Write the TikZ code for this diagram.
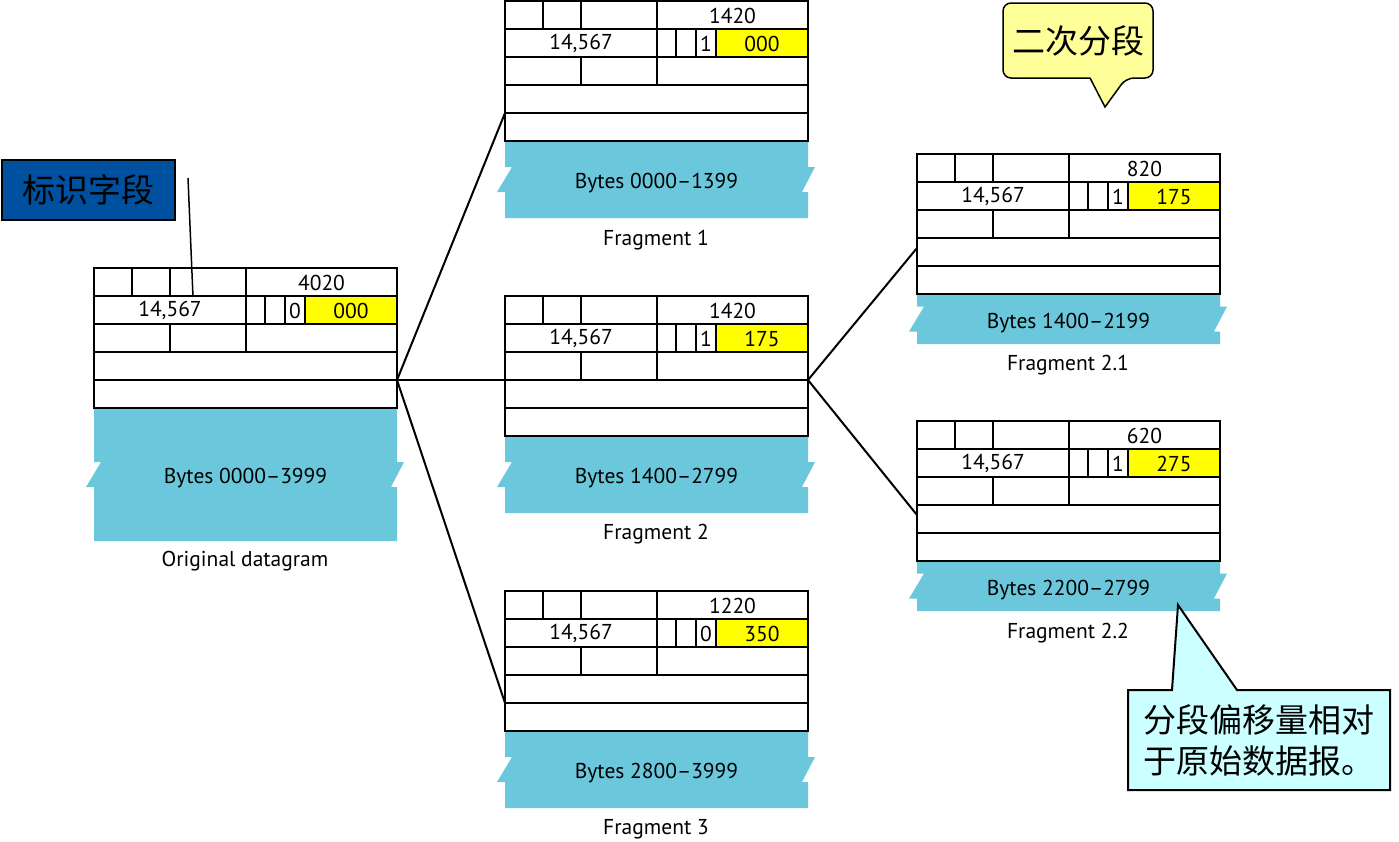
\documentclass[tikz,border=0pt]{standalone}
\usepackage{fontspec}
\setmainfont{PT Sans}
\newfontfamily\cjk{Noto Sans CJK SC}
\definecolor{tornblue}{RGB}{107,200,220}
\definecolor{hdryellow}{RGB}{255,255,0}
\definecolor{idblue}{RGB}{0,80,160}
\definecolor{noteyellow}{RGB}{255,255,153}
\definecolor{notecyan}{RGB}{204,255,255}
\tikzset{
  hdr/.style={draw=black,line width=1.4pt},
  cell/.style={inner sep=0pt,font=\fontsize{21.5}{21.5}\selectfont},
  link/.style={draw=black,line width=2pt},
  caption/.style={inner sep=0pt,font=\fontsize{21.5}{21.5}\selectfont},
  cjknote/.style={font=\cjk\fontsize{33}{41}\selectfont,inner sep=0pt,align=left},
}
% #1 name, #2 x, #3 y, #4 total length, #5 flag, #6 offset, #7 blue height, #8 bytes label
\newcommand{\dgram}[8]{%
\begin{scope}[shift={(#2,#3)}]
  \fill[tornblue] (0,140) -- (303,140) -- (303,{140+#7/2-12.5}) -- (310,{140+#7/2-12.5})
    -- (297,{140+#7/2+12.5}) -- (303,{140+#7/2+12.5}) -- (303,{140+#7}) -- (0,{140+#7})
    -- (0,{140+#7/2+12.5}) -- (-8,{140+#7/2+12.5}) -- (7,{140+#7/2-12.5}) -- (0,{140+#7/2-12.5}) -- cycle;
  \fill[white] (0,0) rectangle (303,140);
  \fill[hdryellow] (211,28) rectangle (303,56);
  \draw[hdr] (0,0) rectangle (303,140);
  \draw[hdr] (0,28) -- (303,28) (0,56) -- (303,56) (0,84) -- (303,84) (0,112) -- (303,112);
  \draw[hdr] (38,0) -- (38,28) (76,0) -- (76,28) (152,0) -- (152,28);
  \draw[hdr] (152,28) -- (152,56) (171,28) -- (171,56) (191,28) -- (191,56) (211,28) -- (211,56);
  \draw[hdr] (76,56) -- (76,84) (152,56) -- (152,84);
  \node[cell] (#1-len) at (227.5,15) {#4};
  \node[cell] (#1-id) at (76,42) {14,567};
  \node[cell] (#1-flag) at (201,43) {#5};
  \node[cell] (#1-off) at (257,43) {#6};
  \node[cell] (#1-bytes) at (151.5,{144+#7/2}) {#8};
  \coordinate (#1-inA) at (0,84);
  \coordinate (#1-inB) at (0,112);
  \coordinate (#1-inC) at (0,94);
  \coordinate (#1-outA) at (303,84);
  \coordinate (#1-outB) at (303,112);
  \coordinate (#1-idmark) at (99,29);
\end{scope}}
\begin{document}
\begin{tikzpicture}[x=1pt,y=-1pt]
\useasboundingbox (0,0) rectangle (1399,841);
% datagrams
\dgram{orig}{94}{268}{4020}{0}{000}{133}{Bytes 0000--3999}
\dgram{f1}{505}{1}{1420}{1}{000}{77}{Bytes 0000--1399}
\dgram{f2}{505}{296}{1420}{1}{175}{77}{Bytes 1400--2799}
\dgram{f3}{505}{591}{1220}{0}{350}{77}{Bytes 2800--3999}
\dgram{f21}{917}{154}{820}{1}{175}{50}{Bytes 1400--2199}
\dgram{f22}{917}{421}{620}{1}{275}{50}{Bytes 2200--2799}
% captions
\node[caption] (cap-orig) at (245,561) {Original datagram};
\node[caption] (cap-f1) at (656,240) {Fragment 1};
\node[caption] (cap-f2) at (656,534) {Fragment 2};
\node[caption] (cap-f3) at (656,829) {Fragment 3};
\node[caption] (cap-f21) at (1068,365) {Fragment 2.1};
\node[caption] (cap-f22) at (1068,633) {Fragment 2.2};
% connectors
\draw[link] (orig-outB) -- (f1-inB);
\draw[link] (orig-outB) -- (f2-inA);
\draw[link] (orig-outB) -- (f3-inB);
\draw[link] (f2-outA) -- (f21-inC);
\draw[link] (f2-outA) -- (f22-inC);
% callout: identification
\node[draw=black,line width=2.5pt,fill=idblue,minimum width=173pt,minimum height=60pt,inner sep=0pt,
      font=\cjk\fontsize{33}{33}\selectfont] (idnote) at (88.5,190) {标识字段};
\coordinate (idtail) at (188,178);
\draw[line width=1.5pt] (idtail) -- (orig-idmark);
% callout: second fragmentation
\coordinate (p2tip) at (1105,107);
\draw[line width=1.5pt,fill=noteyellow,rounded corners=8pt]
  (1003,3) -- (1153,3) -- (1153,78) -- (1126,78) [sharp corners] -- (p2tip) -- (1090,78) [rounded corners=8pt] -- (1003,78) -- cycle;
\node[font=\cjk\fontsize{33}{33}\selectfont,inner sep=0pt] (twonote) at (1078,41) {二次分段};
% callout: offset note
\coordinate (p3tip) at (1178,605);
\draw[line width=2pt,fill=notecyan,line join=miter]
  (1128,690) -- (1172,690) -- (p3tip) -- (1237,690) -- (1390,690) -- (1390,790) -- (1128,790) -- cycle;
\node[cjknote,anchor=west] (offnote) at (1143,740) {分段偏移量相对\\于原始数据报。};
\end{tikzpicture}
\end{document}
